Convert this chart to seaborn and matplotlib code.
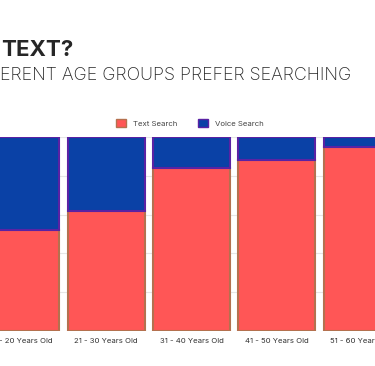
import seaborn as sns
import matplotlib.pyplot as plt
import matplotlib.patches as mpatches
import pandas as pd

## Data (share of each age group, in %)
age_groups = ["13 - 20 Years Old", "21 - 30 Years Old", "31 - 40 Years Old",
              "41 - 50 Years Old", "51 - 60 Years Old"]
text_search = [52, 62, 84, 88, 95]
voice_search = [48, 38, 16, 12, 5]

series_names = ["Text Search", "Voice Search"]
colors = {"Text Search": "#ff5656", "Voice Search": "#0a41a6"}
edges = {"Text Search": "#b4714f", "Voice Search": "#5a22a4"}

data = pd.DataFrame({
    "age": age_groups * 2,
    "type": ["Text Search"] * len(age_groups) + ["Voice Search"] * len(age_groups),
    "pct": text_search + voice_search,
})

sns.set_style("white")
plt.rcParams['font.family'] = ['Inter', 'DejaVu Sans']

fig = plt.figure(figsize=(3.75, 3.66), dpi=100)
ax = fig.add_axes([-0.0573, 0.0956, 1.136, 0.530])

#--Stacked bars
sns.histplot(data=data, x="age", hue="type", weights="pct", hue_order=series_names[::-1],
             multiple="stack", discrete=True, shrink=0.9, palette=colors,
             alpha=1, linewidth=1.5, legend=False, ax=ax)

# colour the edges per series
for patch in ax.patches:
    fc = patch.get_facecolor()
    name = min(colors, key=lambda k: sum(abs(a - b) for a, b in zip(fc[:3], plt.matplotlib.colors.to_rgb(colors[k]))))
    patch.set_edgecolor(edges[name])

ax.set_xlim(-0.5, 4.5)
ax.set_ylim(0, 100)
ax.set_yticks(range(0, 101, 20))
ax.set_yticklabels([])
ax.grid(axis="y", color="#e6e6e6", linewidth=0.8)
ax.set_axisbelow(True)
ax.tick_params(axis="x", labelsize=5.6, labelcolor="#333333", length=0, pad=5)
ax.tick_params(axis="y", length=0)
ax.set_xlabel("")
ax.set_ylabel("")
for s in ax.spines.values():
    s.set_visible(False)

#--Legend
handles = [mpatches.Patch(facecolor=colors[n], edgecolor=edges[n], label=n) for n in series_names]
fig.legend(handles=handles, loc="center", bbox_to_anchor=(190 / 375, 1 - 123 / 366),
           ncol=2, frameon=False, fontsize=5.6, handlelength=1.3, handleheight=1.3,
           columnspacing=2.6, handletextpad=0.9, labelcolor="#444444")

#--Titles
fig.text(1 / 375, 1 - 50 / 366, "TEXT?", fontsize=16, fontweight="bold", va="center", ha="left")
fig.text(0, 1 - 76 / 366, "ERENT AGE GROUPS PREFER SEARCHING", fontsize=12.8,
         fontweight="light", va="center", ha="left")

fig.savefig("out.png", dpi=100)
plt.close()
